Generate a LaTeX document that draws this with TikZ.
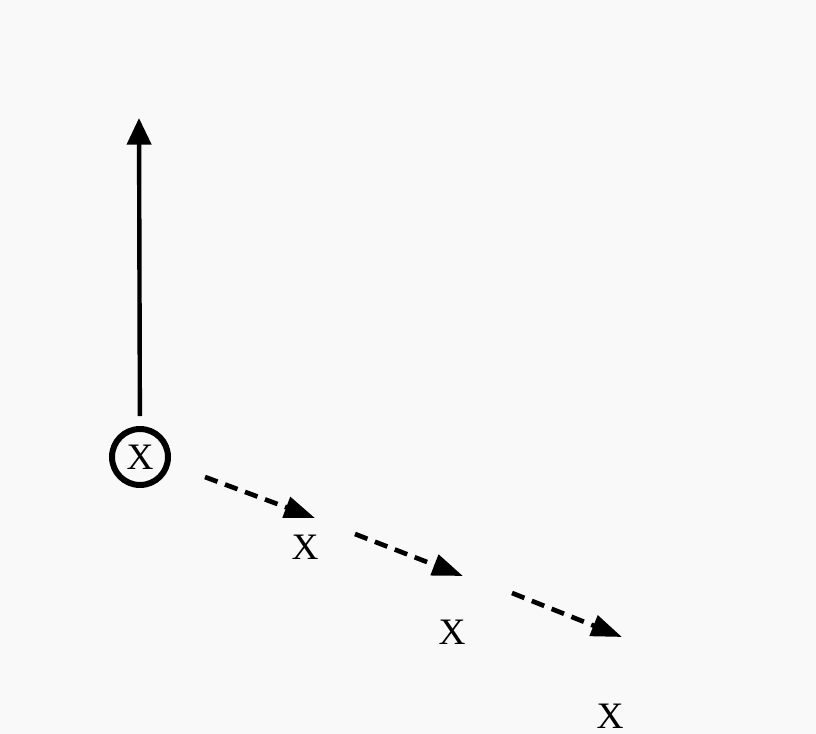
\documentclass[tikz,border=0pt]{standalone}
\usepackage{fontspec}
\setmainfont{Liberation Serif}
\usetikzlibrary{arrows.meta}

\begin{document}
\begin{tikzpicture}[x=0.75pt,y=-0.75pt,
  player/.style={font=\fontsize{28}{32}\selectfont,inner sep=0pt},
  run/.style={line width=3.3pt,-{Triangle[length=20pt,width=18pt]}},
  pass/.style={line width=3.5pt,dash pattern=on 10pt off 6pt,-{Triangle[length=23pt,width=16pt]}}]
\fill[gray!5] (0,0) rectangle (816,734);
\node[player,circle,draw,line width=4.5pt,minimum size=42pt] (A) at (140,457) {X};
\node[player] (B) at (305,547) {X}; \node[player] (C) at (452,632) {X}; \node[player] (D) at (610,716) {X};
\coordinate (top) at (139,118);
\coordinate (s1) at (205,477); \coordinate (e1) at (315,518);
\coordinate (s2) at (355,534); \coordinate (e2) at (463,576);
\coordinate (s3) at (512,593); \coordinate (e3) at (622,637);
\draw[run,shorten <=7.5pt] (A) -- (top);
\draw[pass] (s1) -- (e1);
\draw[pass] (s2) -- (e2);
\draw[pass] (s3) -- (e3);
\end{tikzpicture}
\end{document}
